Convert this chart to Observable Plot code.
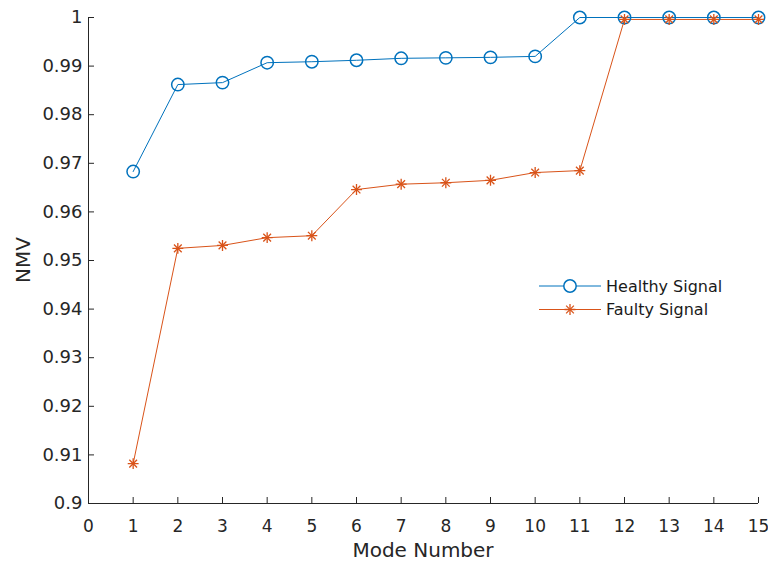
<!DOCTYPE html>
<html>
<head>
<meta charset="utf-8">
<script src="https://cdn.jsdelivr.net/npm/d3@7"></script>
<script src="https://cdn.jsdelivr.net/npm/@observablehq/plot@0.6"></script>
<style>
  html, body { margin: 0; padding: 0; background: #fff; }
</style>
</head>
<body>
<div id="chart"></div>
<script>
const modes = [1, 2, 3, 4, 5, 6, 7, 8, 9, 10, 11, 12, 13, 14, 15];
const healthy = [0.9683, 0.9862, 0.9866, 0.9907, 0.9909, 0.9912, 0.9916, 0.9917, 0.9918, 0.9920, 1.0, 1.0, 1.0, 1.0, 1.0];
const faulty = [0.9082, 0.9525, 0.9531, 0.9547, 0.9551, 0.9646, 0.9657, 0.9660, 0.9665, 0.9681, 0.9685, 0.9996, 0.9996, 0.9996, 0.9996];
const seriesNames = ["Healthy Signal", "Faulty Signal"];
const xTicks = [0, 1, 2, 3, 4, 5, 6, 7, 8, 9, 10, 11, 12, 13, 14, 15];
const yTicks = [0.9, 0.91, 0.92, 0.93, 0.94, 0.95, 0.96, 0.97, 0.98, 0.99, 1];
const xDomain = [0, 15];
const yDomain = [0.9, 1];

const blue = "#0072BD";
const orange = "#D95319";
const ink = "#262626";

const rows = modes.map((m, i) => ({mode: m, healthy: healthy[i], faulty: faulty[i]}));

const W = 768, H = 563;
const mL = 88, mR = 10, mT = 17, mB = 60;

const chart = Plot.plot({
  width: W,
  height: H,
  marginLeft: mL,
  marginRight: mR,
  marginTop: mT,
  marginBottom: mB,
  style: {fontFamily: "'DejaVu Sans', sans-serif", fontSize: "18px", color: ink, background: "#fff"},
  x: {domain: xDomain},
  y: {domain: yDomain},
  marks: [
    Plot.ruleX([xDomain[0]], {stroke: ink, strokeWidth: 1}),
    Plot.ruleY([yDomain[0]], {stroke: ink, strokeWidth: 1}),
    Plot.axisX({ticks: xTicks, tickSize: -6, tickPadding: 22, label: null, tickFormat: d => String(d), stroke: ink, fill: ink, fontSize: 17}),
    Plot.axisY({ticks: yTicks, tickSize: -6, tickPadding: 12, label: null, tickFormat: d => String(+d.toFixed(2)), stroke: ink, fill: ink}),
    Plot.line(rows, {x: "mode", y: "healthy", stroke: blue, strokeWidth: 1}),
    Plot.line(rows, {x: "mode", y: "faulty", stroke: orange, strokeWidth: 1}),
    Plot.dot(rows, {x: "mode", y: "healthy", r: 6.2, stroke: blue, strokeWidth: 1.5, fill: "none"}),
    Plot.dot(rows, {x: "mode", y: "faulty", symbol: "plus", r: 3.6, stroke: orange, strokeWidth: 1.3}),
    Plot.dot(rows, {x: "mode", y: "faulty", symbol: "times", r: 3.6, stroke: orange, strokeWidth: 1.3})
  ]
});

const svg = d3.select(chart);

// Axis titles
svg.append("text")
  .attr("x", (mL + W - mR) / 2)
  .attr("y", 556.5)
  .attr("text-anchor", "middle")
  .attr("font-size", 20)
  .attr("fill", ink)
  .text("Mode Number");

svg.append("text")
  .attr("transform", `translate(29.5, ${(mT + H - mB) / 2}) rotate(-90)`)
  .attr("text-anchor", "middle")
  .attr("font-size", 20)
  .attr("fill", ink)
  .text("NMV");

// Legend
const legend = svg.append("g").attr("font-size", 16).attr("fill", "#000").attr("text-anchor", "start");
const legendRows = [
  {name: seriesNames[0], color: blue, y: 286},
  {name: seriesNames[1], color: orange, y: 309.5}
];
legendRows.forEach((d, i) => {
  legend.append("line")
    .attr("x1", 539).attr("x2", 601)
    .attr("y1", d.y).attr("y2", d.y)
    .attr("stroke", d.color).attr("stroke-width", 1);
  if (i === 0) {
    legend.append("circle")
      .attr("cx", 570).attr("cy", d.y).attr("r", 6.2)
      .attr("fill", "#fff").attr("stroke", d.color).attr("stroke-width", 1.5);
  } else {
    const s = Math.PI * 3.6 * 3.6;
    legend.append("path")
      .attr("transform", `translate(570, ${d.y})`)
      .attr("d", d3.symbol(d3.symbolPlus, s)())
      .attr("fill", "none").attr("stroke", d.color).attr("stroke-width", 1.3);
    legend.append("path")
      .attr("transform", `translate(570, ${d.y})`)
      .attr("d", d3.symbol(d3.symbolTimes, s)())
      .attr("fill", "none").attr("stroke", d.color).attr("stroke-width", 1.3);
  }
  legend.append("text")
    .attr("x", 606).attr("y", d.y)
    .attr("dy", "0.35em")
    .attr("text-anchor", "start")
    .attr("fill", "#1a1a1a")
    .text(d.name);
});

document.getElementById("chart").appendChild(chart);
</script>
</body>
</html>
